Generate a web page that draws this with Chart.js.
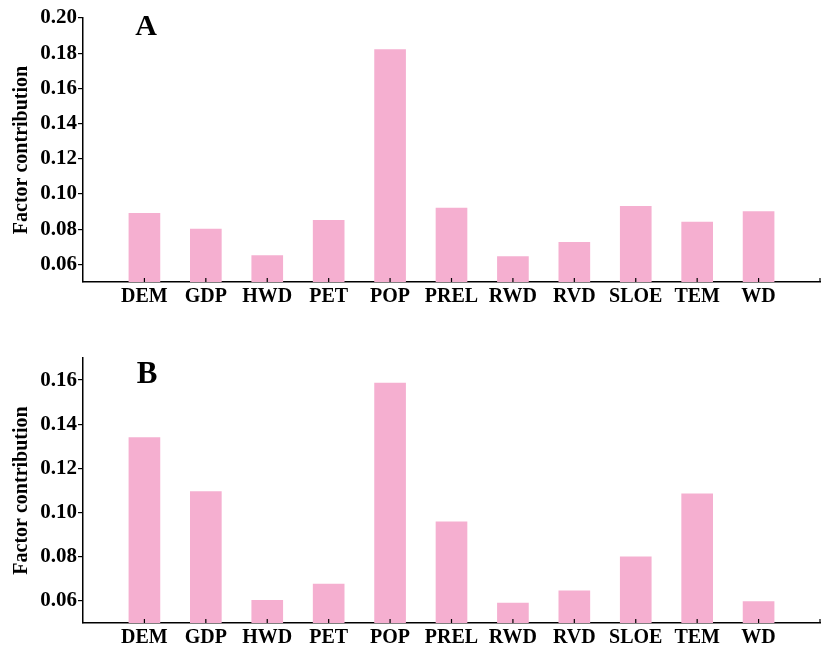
<!DOCTYPE html>
<html>
<head>
<meta charset="utf-8">
<script src="https://cdn.jsdelivr.net/npm/chart.js@4.4.0/dist/chart.umd.min.js"></script>
<style>
  html, body { margin: 0; padding: 0; background: #fff; }
  .wrap { position: relative; width: 826px; }
  #chartA { display: block; width: 826px; height: 315px; }
  #chartB { display: block; width: 826px; height: 333px; }
</style>
</head>
<body>
<div class="wrap">
  <canvas id="chartA" width="826" height="315"></canvas>
  <canvas id="chartB" width="826" height="333"></canvas>
</div>
<script>
// factors (x axis categories)
const factors = ["DEM", "GDP", "HWD", "PET", "POP", "PREL", "RWD", "RVD", "SLOE", "TEM", "WD"];

// factor contribution values
const valuesA = [0.089, 0.080, 0.065, 0.085, 0.182, 0.092, 0.0645, 0.0725, 0.093, 0.084, 0.090];
const valuesB = [0.134, 0.1095, 0.0603, 0.0676, 0.1586, 0.0958, 0.059, 0.0646, 0.080, 0.1085, 0.0597];

// y tick labels of each panel
const ticksA = [0.06, 0.08, 0.10, 0.12, 0.14, 0.16, 0.18, 0.20];
const ticksB = [0.06, 0.08, 0.10, 0.12, 0.14, 0.16];

const serif = "'Liberation Serif', 'Times New Roman', serif";
const pink = "#f5afd0";

// small inward tick marks on the x axis + the panel letter
const panelDecor = {
  id: "panelDecor",
  afterDraw(chart, args, opts) {
    const ctx = chart.ctx;
    const x = chart.scales.x;
    const area = chart.chartArea;
    ctx.save();
    ctx.strokeStyle = "#000";
    ctx.lineWidth = 1.2;
    x.ticks.forEach(t => {
      if (t.value === 0) return;
      const px = x.getPixelForValue(t.value);
      ctx.beginPath();
      ctx.moveTo(px, area.bottom);
      ctx.lineTo(px, area.bottom - 4);
      ctx.stroke();
    });
    ctx.fillStyle = "#000";
    ctx.font = "bold " + opts.size + "px " + serif;
    ctx.textAlign = "center";
    ctx.textBaseline = "alphabetic";
    ctx.fillText(opts.letter, opts.x, opts.y);
    ctx.restore();
  }
};

function makeChart(id, values, yTicks, yMax, top, xHeight, letter) {
  const ctx = document.getElementById(id).getContext("2d");
  return new Chart(ctx, {
    type: "bar",
    data: {
      datasets: [{
        data: values.map((v, i) => ({ x: i + 1, y: v })),
        backgroundColor: pink,
        borderWidth: 0,
        barThickness: 31,
      }],
    },
    options: {
      responsive: false,
      animation: false,
      layout: { padding: { left: 0, right: 6, top: top, bottom: 0 } },
      plugins: {
        legend: { display: false },
        tooltip: { enabled: false },
        panelDecor: letter,
      },
      scales: {
        x: {
          type: "linear",
          min: 0,
          max: 12,
          offset: false,
          grid: { display: false, drawTicks: false, offset: false },
          border: { color: "#000", width: 1.5 },
          afterBuildTicks: s => { s.ticks = factors.map((f, i) => ({ value: i + 1 })).concat([{ value: 12 }]); },
          afterFit: s => { s.height = xHeight; },
          ticks: {
            autoSkip: false,
            maxRotation: 0,
            padding: 3,
            color: "#000",
            font: { family: serif, size: 20, weight: "bold" },
            callback: v => factors[v - 1] || "",
          },
        },
        y: {
          min: 0.05,
          max: yMax,
          grid: { drawOnChartArea: false, tickLength: 5, color: "#000", lineWidth: 1.2 },
          border: { color: "#000", width: 1.5 },
          afterBuildTicks: s => { s.ticks = yTicks.map(v => ({ value: v })); },
          afterFit: s => { s.width = 83; },
          title: {
            display: true,
            text: "Factor contribution",
            color: "#000",
            font: { family: serif, size: 20, weight: "bold" },
            padding: { top: 10, bottom: 0 },
          },
          ticks: {
            padding: 1,
            color: "#000",
            font: { family: serif, size: 21, weight: "bold" },
            callback: v => v.toFixed(2),
          },
        },
      },
    },
    plugins: [panelDecor],
  });
}

makeChart("chartA", valuesA, ticksA, 0.20, 18, 33, { letter: "A", x: 146, y: 35, size: 30 });
makeChart("chartB", valuesB, ticksB, 0.17, 43, 25, { letter: "B", x: 147, y: 68, size: 31 });
</script>
</body>
</html>
